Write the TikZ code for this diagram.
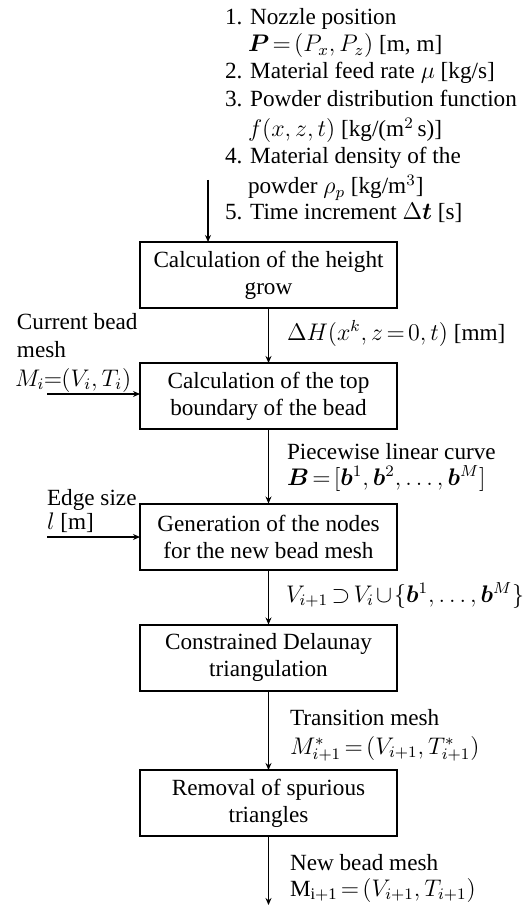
\documentclass[tikz,border=0pt]{standalone}
\usepackage{amsmath,bm}
\usepackage{fontspec}
\setmainfont{Liberation Serif}
\usetikzlibrary{arrows.meta}
\thickmuskip=2.5mu
\medmuskip=1.5mu
\begin{document}
\begin{tikzpicture}[x=0.5pt,y=-0.5pt,
  every node/.style={font=\fontsize{11.6}{13.5}\selectfont, inner sep=0pt, outer sep=0pt},
  procbox/.style={draw, line width=1pt, minimum width=128.5pt, minimum height=33pt, align=center},
  lbl/.style={anchor=base west},
  flow/.style={line width=0.7pt, -{Stealth[length=3.5pt,width=3pt]}}]
\useasboundingbox (0,0) rectangle (526,909);
% boxes
\node[procbox] (b1) at (268.5,275) {Calculation of the height\\grow};
\node[procbox] (b2) at (268.5,396) {Calculation of the top\\boundary of the bead};
\node[procbox] (b3) at (268.5,536.5) {Generation of the nodes\\for the new bead mesh};
\node[procbox] (b4) at (268.5,657.5) {Constrained Delaunay\\triangulation};
\node[procbox] (b5) at (268.5,803) {Removal of spurious\\triangles};
% top list
\node[lbl] (t1) at (225,25) {1. Nozzle position};
\node[lbl] (t2) at (248,52) {$\bm{P}=(P_x,P_z)$ [m, m]};
\node[lbl] (t3) at (225,79) {2. Material feed rate $\mu$ [kg/s]};
\node[lbl] (t4) at (225,107) {3. Powder distribution function};
\node[lbl] (t5) at (248,137) {$f(x,z,t)$ [kg/(m$^2$\,s)]};
\node[lbl] (t6) at (225,164) {4. Material density of the};
\node[lbl] (t7) at (248,194) {powder $\rho_p$ [kg/m$^3$]};
\node[lbl] (t8) at (225,220) {5. Time increment $\Delta\bm{t}$ [s]};
\coordinate (tin) at (208,180);
\draw[flow] (tin) -- (tin |- b1.north);
% labels between boxes
\node[lbl] (l1) at (287,340) {$\Delta H(x^k,z=0,t)$ [mm]};
\node[lbl] (l2) at (287,459) {Piecewise linear curve};
\node[lbl] (l3) at (287,485) {$\bm{B}=[\bm{b}^1,\bm{b}^2,\dots,\bm{b}^M]$};
\node[lbl] (l4) at (286,602) {$V_{i+1}\supset V_i\cup\{\bm{b}^1,\dots,\bm{b}^M\}$};
\node[lbl] (l5) at (290,725) {Transition mesh};
\node[lbl] (l6) at (290,754) {$M^*_{i+1}=(V_{i+1},T^*_{i+1})$};
\node[lbl] (l7) at (290,870) {New bead mesh};
\node[lbl] (l8) at (290,896) {$\mathrm{M}_{\mathrm{i+1}}=(V_{i+1},T_{i+1})$};
% left inputs
\node[lbl] (c1) at (17,329) {Current bead};
\node[lbl] (c2) at (17,357) {mesh};
\node[lbl] (c3) at (15,386) {$M_i\!=\!(V_i,T_i)$};
\coordinate (cin) at (47,394);
\draw[flow] (cin) -- (cin -| b2.west);
\node[lbl] (e1) at (47,505) {Edge size};
\node[lbl] (e2) at (47,529) {$l$ [m]};
\coordinate (ein) at (47,537);
\draw[flow] (ein) -- (ein -| b3.west);
% vertical flow
\draw[flow] (b1) -- (b2);
\draw[flow] (b2) -- (b3);
\draw[flow] (b3) -- (b4);
\draw[flow] (b4) -- (b5);
\coordinate (out) at (268.5,905);
\draw[flow] (b5) -- (out);
\end{tikzpicture}
\end{document}
